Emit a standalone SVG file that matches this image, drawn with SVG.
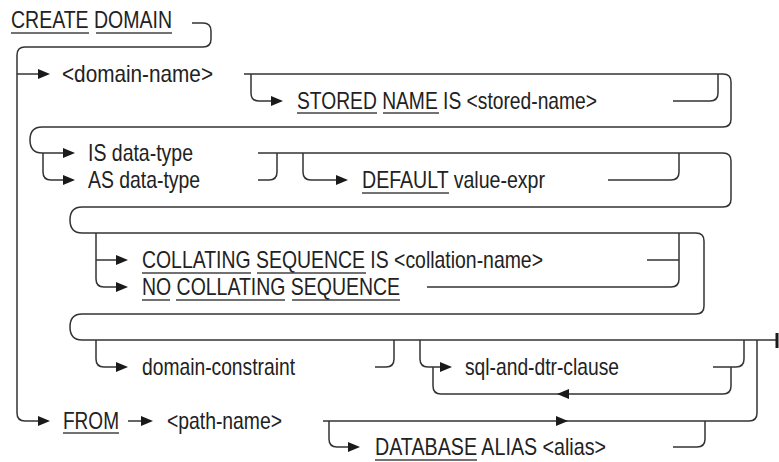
<svg xmlns="http://www.w3.org/2000/svg" xmlns:xlink="http://www.w3.org/1999/xlink" width="779" height="462" viewBox="0 0 779 462">
<style>
  .t { font-family: "Liberation Sans", Arial, Helvetica, sans-serif; font-size: 24px; fill: #222; }
  .u { stroke: #444; stroke-width: 1.3; fill: none; }
  .c { stroke: #333; stroke-width: 1.5; fill: none; }
  .ah { fill: #1a1a1a; }
</style>
<defs>
  <path id="ah" class="ah" d="M0,0 L-12,-5 L-12,5 Z"/>
</defs>
<rect width="779" height="462" fill="#fff"/>
<g id="connectors">
  <path class="c" d="M192,23 H203 Q211,23 211,31 V39 Q211,47 203,47 H25 Q17,47 17,55 V413 Q17,421 25,421 H40"/>
  <use href="#ah" x="50" y="421"/>
  <path class="c" d="M17,74 H40"/>
  <use href="#ah" x="50" y="74"/>
  <path class="c" d="M244,74 H723 Q731,74 731,82 V119 Q731,127 723,127 H42 Q30,127 30,140 Q30,153 42,153 H65"/>
  <use href="#ah" x="75" y="153"/>
  <path class="c" d="M43,153 V172 Q43,180 51,180 H65"/>
  <use href="#ah" x="75" y="180"/>
  <path class="c" d="M251,74 V93 Q251,101 259,101 H273"/>
  <use href="#ah" x="283" y="101"/>
  <path class="c" d="M673,101 H710 Q718,101 718,93 V74"/>
  <path class="c" d="M258,153 H723 Q731,153 731,161 V199 Q731,207 723,207 H82 Q70,207 70,220 Q70,233 82,233 H696 Q704,233 704,241 V306 Q704,314 696,314 H82 Q70,314 70,327 Q70,340 82,340 H776"/>
  <path class="c" d="M258,180 H269 Q277,180 277,172 V153"/>
  <path class="c" d="M303,153 V172 Q303,180 311,180 H338"/>
  <use href="#ah" x="348" y="180"/>
  <path class="c" d="M608,180 H671 Q679,180 679,172 V153"/>
  <path class="c" d="M96,233 V279 Q96,287 104,287 H118 M96,260 H118"/>
  <use href="#ah" x="128" y="260"/>
  <use href="#ah" x="128" y="287"/>
  <path class="c" d="M647,260 H679 M427,287 H671 Q679,287 679,279 V233"/>
  <path class="c" d="M96,340 V359 Q96,367 104,367 H118"/>
  <use href="#ah" x="128" y="367"/>
  <path class="c" d="M375,367 H386 Q394,367 394,359 V340"/>
  <path class="c" d="M420,340 V359 Q420,367 428,367 H442"/>
  <use href="#ah" x="452" y="367"/>
  <path class="c" d="M433,367 V386 Q433,394 441,394 H723 Q731,394 731,386 V367"/>
  <use href="#ah" transform="translate(557,394) scale(-1,1)"/>
  <path class="c" d="M713,367 H736 Q744,367 744,359 V340"/>
  <rect x="775.5" y="333" width="3" height="15" fill="#1a1a1a"/>
  <path class="c" d="M128,421 H143"/>
  <use href="#ah" x="153" y="421"/>
  <path class="c" d="M323,421 H749 Q757,421 757,413 V340"/>
  <use href="#ah" x="568" y="421"/>
  <path class="c" d="M329,421 V439 Q329,447 337,447 H350"/>
  <use href="#ah" x="360" y="447"/>
  <path class="c" d="M673,447 H697 Q705,447 705,439 V421"/>
</g>
<g id="create-domain">
  <text class="t" x="11" y="27.5" textLength="161" lengthAdjust="spacingAndGlyphs">CREATE DOMAIN</text>
  <path class="u" d="M11,33 H89 M96,33 H172"/>
</g>
<g id="domain-name">
  <text class="t" x="62" y="81.5" textLength="151" lengthAdjust="spacingAndGlyphs">&lt;domain-name&gt;</text>
</g>
<g id="stored-name">
  <text class="t" x="297" y="109" textLength="300" lengthAdjust="spacingAndGlyphs">STORED NAME IS &lt;stored-name&gt;</text>
  <path class="u" d="M297,113 H377 M383,113 H439"/>
</g>
<g id="is-data-type">
  <text class="t" x="88" y="160.5" textLength="105" lengthAdjust="spacingAndGlyphs">IS data-type</text>
</g>
<g id="as-data-type">
  <text class="t" x="88" y="188" textLength="112" lengthAdjust="spacingAndGlyphs">AS data-type</text>
</g>
<g id="default">
  <text class="t" x="362" y="188" textLength="183" lengthAdjust="spacingAndGlyphs">DEFAULT value-expr</text>
  <path class="u" d="M362,193 H449"/>
</g>
<g id="collating-sequence">
  <text class="t" x="142" y="268" textLength="401" lengthAdjust="spacingAndGlyphs">COLLATING SEQUENCE IS &lt;collation-name&gt;</text>
  <path class="u" d="M142,273 H251 M257,273 H366"/>
</g>
<g id="no-collating-sequence">
  <text class="t" x="142" y="295" textLength="258" lengthAdjust="spacingAndGlyphs">NO COLLATING SEQUENCE</text>
  <path class="u" d="M142,300 H170 M176,300 H285 M292,300 H400"/>
</g>
<g id="domain-constraint">
  <text class="t" x="142" y="375" textLength="153" lengthAdjust="spacingAndGlyphs">domain-constraint</text>
</g>
<g id="sql-and-dtr-clause">
  <text class="t" x="465" y="375" textLength="154" lengthAdjust="spacingAndGlyphs">sql-and-dtr-clause</text>
</g>
<g id="from">
  <text class="t" x="63" y="428.5" textLength="56" lengthAdjust="spacingAndGlyphs">FROM</text>
  <path class="u" d="M63,433 H119"/>
</g>
<g id="path-name">
  <text class="t" x="167" y="428.5" textLength="115" lengthAdjust="spacingAndGlyphs">&lt;path-name&gt;</text>
</g>
<g id="database-alias">
  <text class="t" x="375" y="455" textLength="231" lengthAdjust="spacingAndGlyphs">DATABASE ALIAS &lt;alias&gt;</text>
  <path class="u" d="M375,460 H477"/>
</g>
</svg>
